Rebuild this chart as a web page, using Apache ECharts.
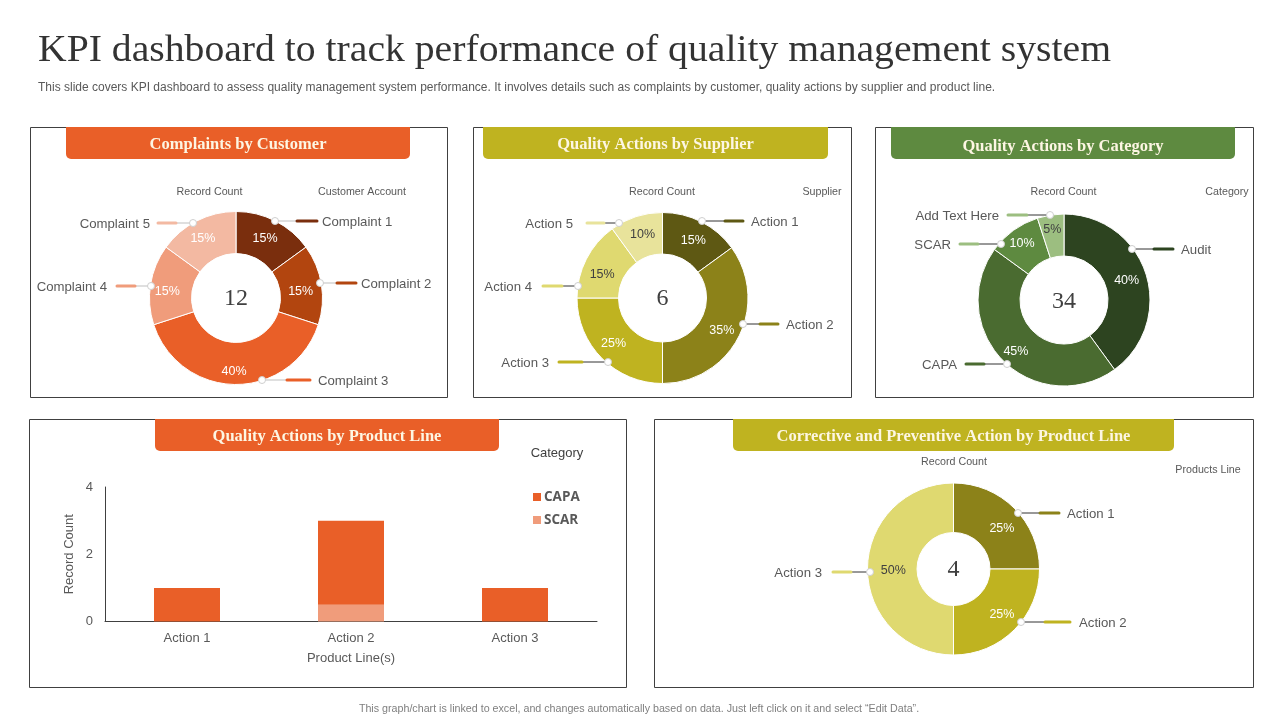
<!DOCTYPE html>
<html>
<head>
<meta charset="utf-8">
<title>KPI dashboard</title>
<style>
html, body { margin: 0; padding: 0; background: #fff; }
#main { width: 1280px; height: 720px; }
</style>
<script src="https://cdn.jsdelivr.net/npm/echarts@6/dist/echarts.min.js"></script>
</head>
<body>
<div id="main"></div>
<script>
// data
var customerNames = ['Complaint 1', 'Complaint 2', 'Complaint 3', 'Complaint 4', 'Complaint 5'];
var customerValues = [15, 15, 40, 15, 15];
var customerTotal = '12';

var supplierNames = ['Action 1', 'Action 2', 'Action 3', 'Action 4', 'Action 5'];
var supplierValues = [15, 35, 25, 15, 10];
var supplierTotal = '6';

var categoryNames = ['Audit', 'CAPA', 'SCAR', 'Add Text Here'];
var categoryValues = [40, 45, 10, 5];
var categoryTotal = '34';

var productNames = ['Action 1', 'Action 2', 'Action 3'];
var capaValues = [1, 2.5, 1];
var scarValues = [0, 0.5, 0];
var yTicks = [0, 2, 4];

var capaNames = ['Action 1', 'Action 2', 'Action 3'];
var capaShareValues = [25, 25, 50];
var capaTotal = '4';

// colours
var orange = ['#7A2E0D', '#B2450F', '#E95F28', '#F09C7B', '#F3B9A2'];
var olive = ['#5E5813', '#8C8219', '#BFB320', '#DFD970', '#E8E39B'];
var green = ['#2D4420', '#4A6B30', '#5E8A40', '#9CBE80'];
var olive3 = ['#8C8219', '#BFB320', '#DFD970'];
var white = '#fff';
var dark = '#404040';
var grey = '#595959';
var serif = '"Liberation Serif", serif';
var sans = '"Liberation Sans", Arial, sans-serif';

var graphics = [];

function addText(x, y, text, size, color, align, font, weight, scaleX) {
    graphics.push({
        type: 'text', x: x, y: y + 1, z: 100, silent: true, scaleX: scaleX || 1,
        style: {
            text: text, fontSize: size, fill: color, align: align || 'left', verticalAlign: 'middle',
            fontFamily: font || sans, fontWeight: weight || 'normal'
        }
    });
}

function addPanel(x, y, x2, y2, hx, hx2, hy2, color, title, ty) {
    graphics.push({
        type: 'rect', z: 1, silent: true,
        shape: { x: x + 0.5, y: y + 0.5, width: x2 - x, height: y2 - y },
        style: { fill: null, stroke: '#404040', lineWidth: 1 }
    });
    graphics.push({
        type: 'rect', z: 1, silent: true,
        shape: { x: hx, y: y, width: hx2 - hx, height: hy2 - y, r: [0, 0, 5, 5] },
        style: { fill: color }
    });
    addText((hx + hx2) / 2, ty, title, 16.5, '#FDF6E3', 'center', serif, 'bold');
}

// leader: [dot x, dot y, dash start, dash end, text x]
function addLeaders(names, colors, leaders, lineColor) {
    leaders.forEach(function (l, i) {
        var toRight = l[4] > l[0];
        graphics.push({
            type: 'line', z: 90, silent: true,
            shape: { x1: l[0], y1: l[1], x2: toRight ? l[2] : l[3], y2: l[1] },
            style: { stroke: lineColor, lineWidth: 1 }
        });
        graphics.push({
            type: 'line', z: 91, silent: true,
            shape: { x1: l[2], y1: l[1], x2: l[3], y2: l[1] },
            style: { stroke: colors[i], lineWidth: 3, lineCap: 'round' }
        });
        graphics.push({
            type: 'circle', z: 92, silent: true,
            shape: { cx: l[0], cy: l[1], r: 3.5 },
            style: { fill: '#fff', stroke: '#cfcfcf', lineWidth: 1 }
        });
        addText(l[4], l[1], names[i], 13.2, grey, toRight ? 'left' : 'right');
    });
}

function donut(names, values, colors, labelColors, nudges, cx, cy, r, r0) {
    return {
        type: 'pie',
        center: [cx, cy],
        radius: [r0, r],
        startAngle: 90,
        silent: true,
        animation: false,
        labelLine: { show: false },
        itemStyle: { borderColor: '#fff', borderWidth: 1 },
        labelLayout: function (params) {
            var n = nudges[params.dataIndex];
            return { dx: n[0], dy: n[1] };
        },
        data: values.map(function (v, i) {
            return {
                name: names[i],
                value: v,
                itemStyle: { color: colors[i] },
                label: {
                    show: true, position: 'inside', formatter: v + '%',
                    fontSize: 12.5, fontFamily: sans, color: labelColors[i]
                }
            };
        })
    };
}

// headline
addText(38, 50, 'KPI dashboard to track performance of quality management system', 38, '#333', 'left', serif, 'normal', 1.044);
addText(38, 87, 'This slide covers KPI dashboard to assess quality management system performance. It involves details such as complaints by customer, quality actions by supplier and product line.', 12, grey);
addText(639, 708, 'This graph/chart is linked to excel, and changes automatically based on data. Just left click on it and select \u201cEdit Data\u201d.', 10.7, '#7F7F7F', 'center');

// panels
addPanel(30, 127, 447, 397, 66, 410, 159, '#E95F28', 'Complaints by Customer', 144);
addPanel(473, 127, 851, 397, 483, 828, 159, '#BFB320', 'Quality Actions by Supplier', 144);
addPanel(875, 127, 1253, 397, 891, 1235, 159, '#5E8A40', 'Quality Actions by Category', 146);
addPanel(29, 419, 626, 687, 155, 499, 451, '#E95F28', 'Quality Actions by Product Line', 436);
addPanel(654, 419, 1253, 687, 733, 1174, 451, '#BFB320', 'Corrective and Preventive Action by Product Line', 436);

// small captions
addText(209.5, 191, 'Record Count', 10.7, grey, 'center');
addText(362, 191, 'Customer Account', 10.7, grey, 'center');
addText(662, 191, 'Record Count', 10.7, grey, 'center');
addText(822, 191, 'Supplier', 10.7, grey, 'center');
addText(1063.5, 191, 'Record Count', 10.7, grey, 'center');
addText(1227, 191, 'Category', 10.7, grey, 'center');
addText(954, 461, 'Record Count', 10.7, grey, 'center');
addText(1208, 469, 'Products Line', 10.7, grey, 'center');
addText(557, 452, 'Category', 13, dark, 'center');

// centre totals
addText(236, 298, customerTotal, 24, dark, 'center', serif);
addText(662.5, 298, supplierTotal, 24, dark, 'center', serif);
addText(1064, 301, categoryTotal, 24, dark, 'center', serif);
addText(953.5, 569, capaTotal, 24, dark, 'center', serif);

addLeaders(customerNames, orange, [
    [275, 221, 297, 317, 322],
    [320, 283, 337, 356, 361],
    [262, 380, 287, 310, 318],
    [151, 286, 117, 135, 107],
    [193, 223, 158, 176, 150]
], '#BFBFBF');
addLeaders(supplierNames, olive, [
    [702, 221, 725, 743, 751],
    [743, 324, 760, 778, 786],
    [608, 362, 559, 582, 549],
    [578, 286, 543, 562, 532],
    [619, 223, 587, 604, 573]
], '#333');
addLeaders(categoryNames, [green[0], green[1], green[3], green[3]], [
    [1132, 249, 1154, 1173, 1181],
    [1007, 364, 966, 984, 957],
    [1001, 244, 960, 978, 951],
    [1050, 215, 1008, 1027, 999]
], '#333');
addLeaders(capaNames, olive3, [
    [1018, 513, 1040, 1059, 1067],
    [1021, 622, 1045, 1070, 1079],
    [870, 572, 833, 851, 822]
], '#333');

var myChart = echarts.init(document.getElementById('main'));

var option = {
    animation: false,
    backgroundColor: '#fff',
    graphic: { elements: graphics },
    legend: {
        orient: 'vertical',
        left: 528,
        top: 485,
        itemWidth: 8,
        itemHeight: 8,
        itemGap: 9,
        icon: 'rect',
        selectedMode: false,
        data: ['CAPA', 'SCAR'],
        textStyle: { color: grey, fontSize: 13.5, fontWeight: 'bold', fontFamily: '"Open Sans", sans-serif', padding: [0, 0, 0, -2] }
    },
    grid: { left: 105, top: 487, width: 492, height: 134.5, containLabel: false },
    xAxis: {
        type: 'category',
        data: productNames,
        name: 'Product Line(s)',
        nameLocation: 'middle',
        nameGap: 30,
        nameTextStyle: { color: grey, fontSize: 13, fontFamily: sans },
        axisTick: { show: false },
        axisLine: { lineStyle: { color: '#404040' } },
        axisLabel: { color: grey, fontSize: 13, fontFamily: sans, margin: 10 }
    },
    yAxis: {
        type: 'value',
        min: yTicks[0],
        max: yTicks[2],
        interval: yTicks[1],
        name: 'Record Count',
        nameLocation: 'middle',
        nameGap: 29,
        nameRotate: 90,
        nameTextStyle: { color: grey, fontSize: 13, fontFamily: sans },
        splitLine: { show: false },
        axisTick: { show: false },
        axisLine: { show: true, lineStyle: { color: '#404040' } },
        axisLabel: { color: grey, fontSize: 13, fontFamily: sans, margin: 12 }
    },
    series: [
        donut(customerNames, customerValues, orange, [white, white, white, white, white],
            [[-2, 2], [-3, 4], [-2, 5], [-1, 4], [-2, 2]], 236, 298, 86.5, 44.5),
        donut(supplierNames, supplierValues, olive, [white, white, white, dark, dark],
            [[0, 3], [-1, 2], [-1, -2], [0, 7], [1, 1]], 662.5, 298, 85.5, 44),
        donut(categoryNames, categoryValues, [green[0], green[1], green[2], green[3]], [white, white, white, dark],
            [[-2, 2], [0, 3], [-2, -1], [-1, -3]], 1064, 300, 86, 44),
        donut(capaNames, capaShareValues, olive3, [white, white, dark],
            [[3, 5], [3, 0], [4, 2]], 953.5, 569, 86, 36.5),
        {
            name: 'SCAR', type: 'bar', stack: 'total', barWidth: 66,
            itemStyle: { color: '#F09C7B' }, data: scarValues, silent: true
        },
        {
            name: 'CAPA', type: 'bar', stack: 'total', barWidth: 66,
            itemStyle: { color: '#E95F28' }, data: capaValues, silent: true
        }
    ]
};

myChart.setOption(option);
</script>
</body>
</html>
